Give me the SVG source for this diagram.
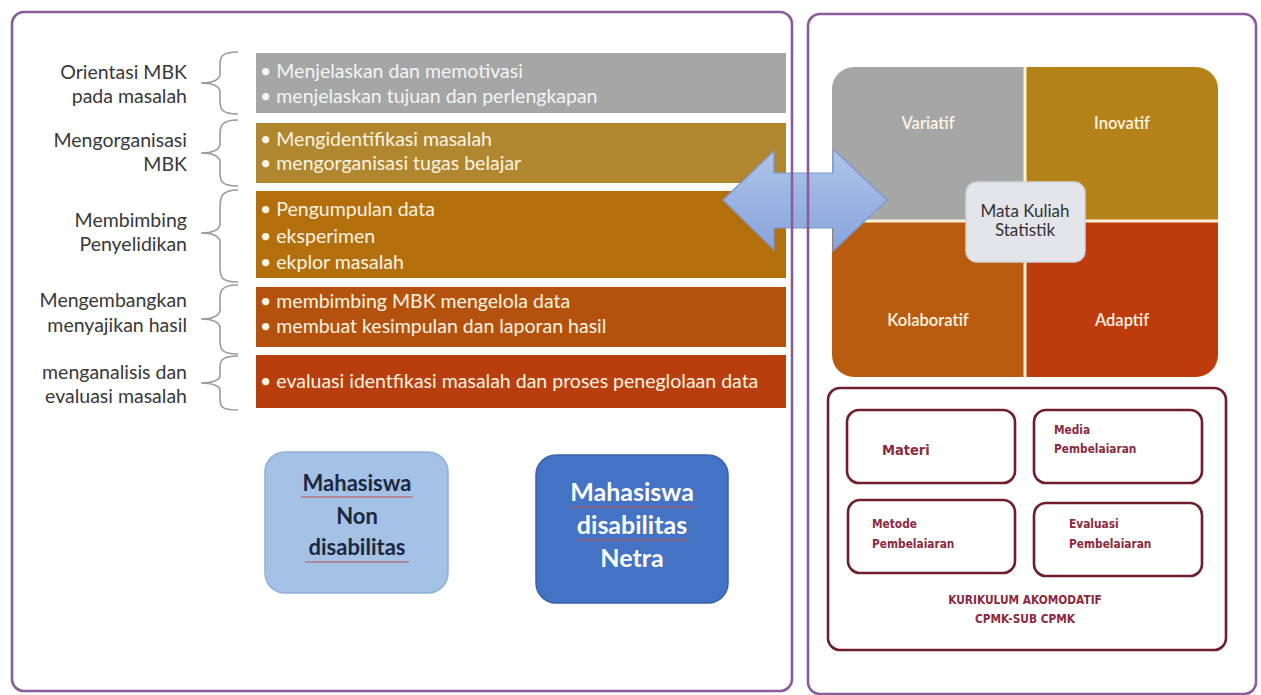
<svg xmlns="http://www.w3.org/2000/svg" width="1261" height="695" viewBox="0 0 1261 695">
<defs>
<style>
.lbl{font-family:Lato,"Open Sans","Liberation Sans",sans-serif;font-size:19.5px;fill:#383838;text-anchor:end}
.bt{font-family:Lato,"Open Sans","Liberation Sans",sans-serif;font-size:19.5px;fill:#FFF4E2}
.bt.g{fill:#F4F4F4}
.brace{fill:none;stroke:#9a9a9a;stroke-width:1.6}
.panel{fill:none;stroke:#8A5C9A;stroke-width:2.6}
.q{font-family:Lato,"Open Sans","Liberation Sans",sans-serif;font-size:16.5px;fill:#FFF4E2;text-anchor:middle;font-weight:600}
.ctr{font-family:Lato,"Open Sans","Liberation Sans",sans-serif;font-size:17px;fill:#333;text-anchor:middle}
.kbox{fill:#fff;stroke:#6E1F2B;stroke-width:2.6}
.kt{font-family:"DejaVu Sans Condensed","DejaVu Sans",sans-serif;font-weight:bold;fill:#8A2A3C}
.stu{font-family:Lato,"Open Sans","Liberation Sans",sans-serif;font-weight:bold;text-anchor:middle}
.squig{stroke:#C0504D;stroke-width:1;fill:none}
</style>
<linearGradient id="arr" x1="0" y1="0" x2="0" y2="1">
<stop offset="0" stop-color="#AFC4EA"/>
<stop offset="1" stop-color="#88A4DB"/>
</linearGradient>
<clipPath id="qc"><rect x="832" y="67" width="386" height="310" rx="22"/></clipPath>
</defs>
<rect width="1261" height="695" fill="#fff"/>

<g id="labels">
<text class="lbl" x="187" y="79">Orientasi MBK</text>
<text class="lbl" x="187" y="103">pada masalah</text>
<text class="lbl" x="187" y="147">Mengorganisasi</text>
<text class="lbl" x="187" y="171">MBK</text>
<text class="lbl" x="187" y="227">Membimbing</text>
<text class="lbl" x="187" y="251">Penyelidikan</text>
<text class="lbl" x="187" y="307">Mengembangkan</text>
<text class="lbl" x="187" y="332">menyajikan hasil</text>
<text class="lbl" x="187" y="379">menganalisis dan</text>
<text class="lbl" x="187" y="403">evaluasi masalah</text>
</g>

<g id="braces">
<path class="brace" d="M238,52 C220,52 220,58 220,66 L220,74 C220,80 212,83 201,83 C212,83 220,86 220,92 L220,100 C220,108 220,114 238,114"/>
<path class="brace" d="M238,120 C220,120 220,127 220,136 L220,144 C220,150 212,153 201,153 C212,153 220,156 220,162 L220,172 C220,180 220,186 238,186"/>
<path class="brace" d="M238,190 C220,190 220,198 220,210 L220,224 C220,230 212,233 201,233 C212,233 220,236 220,242 L220,266 C220,276 220,282 238,282"/>
<path class="brace" d="M238,285 C220,285 220,292 220,300 L220,310 C220,316 212,319 201,319 C212,319 220,322 220,328 L220,340 C220,348 220,354 238,354"/>
<path class="brace" d="M238,356 C220,356 220,362 220,368 L220,376 C220,380 212,383 201,383 C212,383 220,386 220,390 L220,398 C220,406 220,410 238,410"/>
</g>

<g id="step1">
<rect x="256" y="53" width="530" height="60" fill="#A6A6A6"/>
<text class="bt g" x="260" y="78">• Menjelaskan dan memotivasi</text>
<text class="bt g" x="260" y="103">• menjelaskan tujuan dan perlengkapan</text>
</g>
<g id="step2">
<rect x="256" y="123" width="530" height="60" fill="#B0862F"/>
<text class="bt" x="260" y="146">• Mengidentifikasi masalah</text>
<text class="bt" x="260" y="170">• mengorganisasi tugas belajar</text>
</g>
<g id="step3">
<rect x="256" y="191" width="530" height="87" fill="#B46F0D"/>
<text class="bt" x="260" y="216">• Pengumpulan data</text>
<text class="bt" x="260" y="243">• eksperimen</text>
<text class="bt" x="260" y="269">• ekplor masalah</text>
</g>
<g id="step4">
<rect x="256" y="287" width="530" height="60" fill="#B4520D"/>
<text class="bt" x="260" y="308">• membimbing MBK mengelola data</text>
<text class="bt" x="260" y="333">• membuat kesimpulan dan laporan hasil</text>
</g>
<g id="step5">
<rect x="256" y="355" width="530" height="53" fill="#B83E0E"/>
<text class="bt" x="260" y="388">• evaluasi identfikasi masalah dan proses peneglolaan data</text>
</g>

<g id="quadrants" clip-path="url(#qc)">
<rect x="832" y="67" width="192" height="154" fill="#A6A6A6"/>
<rect x="1024" y="67" width="194" height="154" fill="#B5821A"/>
<rect x="832" y="221" width="192" height="156" fill="#B85D10"/>
<rect x="1024" y="221" width="194" height="156" fill="#BE3B0C"/>
<line x1="1025" y1="60" x2="1025" y2="385" stroke="#FFF1D6" stroke-width="3"/>
<line x1="825" y1="221" x2="1225" y2="221" stroke="#FFF1D6" stroke-width="3"/>
</g>
<g id="q-labels">
<text class="q" x="928" y="129">Variatif</text>
<text class="q" x="1122" y="129">Inovatif</text>
<text class="q" x="928" y="326">Kolaboratif</text>
<text class="q" x="1122" y="326">Adaptif</text>
</g>

<g id="connectors">
<polygon points="723,200 774,151 774,173 833,173 833,149 887,200 833,251 833,228 774,228 774,250" fill="url(#arr)" stroke="#7C97CF" stroke-width="1.2"/>
</g>

<g id="center">
<rect x="966" y="182" width="119" height="80" rx="11" fill="#E3E5EA" stroke="#D0D3DA" stroke-width="1.5"/>
<text class="ctr" x="1025" y="217">Mata Kuliah</text>
<text class="ctr" x="1025" y="236">Statistik</text>
</g>

<g id="kurikulum">
<rect class="kbox" x="828" y="388" width="398" height="262" rx="12"/>
<text class="kt" x="1025" y="604" font-size="11.8" text-anchor="middle">KURIKULUM AKOMODATIF</text>
<text class="kt" x="1025" y="623" font-size="11.8" text-anchor="middle">CPMK-SUB CPMK</text>
</g>
<g id="materi">
<rect class="kbox" x="847" y="410" width="168" height="73" rx="12"/>
<text class="kt" x="882" y="455" font-size="14.5">Materi</text>
</g>
<g id="media">
<rect class="kbox" x="1034" y="410" width="168" height="73" rx="12"/>
<text class="kt" x="1054" y="434" font-size="11.8">Media</text>
<text class="kt" x="1054" y="453" font-size="11.8">Pembelaiaran</text>
</g>
<g id="metode">
<rect class="kbox" x="848" y="500" width="167" height="73" rx="12"/>
<text class="kt" x="872" y="528" font-size="11.8">Metode</text>
<text class="kt" x="872" y="548" font-size="11.8">Pembelaiaran</text>
</g>
<g id="evaluasi">
<rect class="kbox" x="1034" y="503" width="168" height="73" rx="12"/>
<text class="kt" x="1069" y="528" font-size="11.8">Evaluasi</text>
<text class="kt" x="1069" y="548" font-size="11.8">Pembelaiaran</text>
</g>

<g id="non-disabilitas">
<rect x="265" y="452" width="183" height="141" rx="20" fill="#A3C2E6" stroke="#8FAFD6" stroke-width="1.5"/>
<text class="stu" x="357" y="491" font-size="22" fill="#1E2740">Mahasiswa</text>
<text class="stu" x="357" y="524" font-size="22" fill="#1E2740">Non</text>
<text class="stu" x="357" y="555" font-size="22" fill="#1E2740">disabilitas</text>
<path class="squig" d="M301,497 L413,497 M305,562 L409,562"/>
</g>
<g id="disabilitas-netra">
<rect x="536" y="455" width="192" height="148" rx="20" fill="#4472C4" stroke="#3A62AB" stroke-width="1.5"/>
<text class="stu" x="632" y="501" font-size="25" fill="#fff">Mahasiswa</text>
<text class="stu" x="632" y="534" font-size="25" fill="#fff">disabilitas</text>
<text class="stu" x="632" y="567" font-size="25" fill="#fff">Netra</text>
<path class="squig" d="M569,507 L696,507 M577,540 L688,540"/>
</g>

<g id="panels">
<rect class="panel" x="12" y="12" width="780" height="679" rx="12"/>
<rect class="panel" x="808" y="14" width="448" height="680" rx="12"/>
</g>
</svg>
